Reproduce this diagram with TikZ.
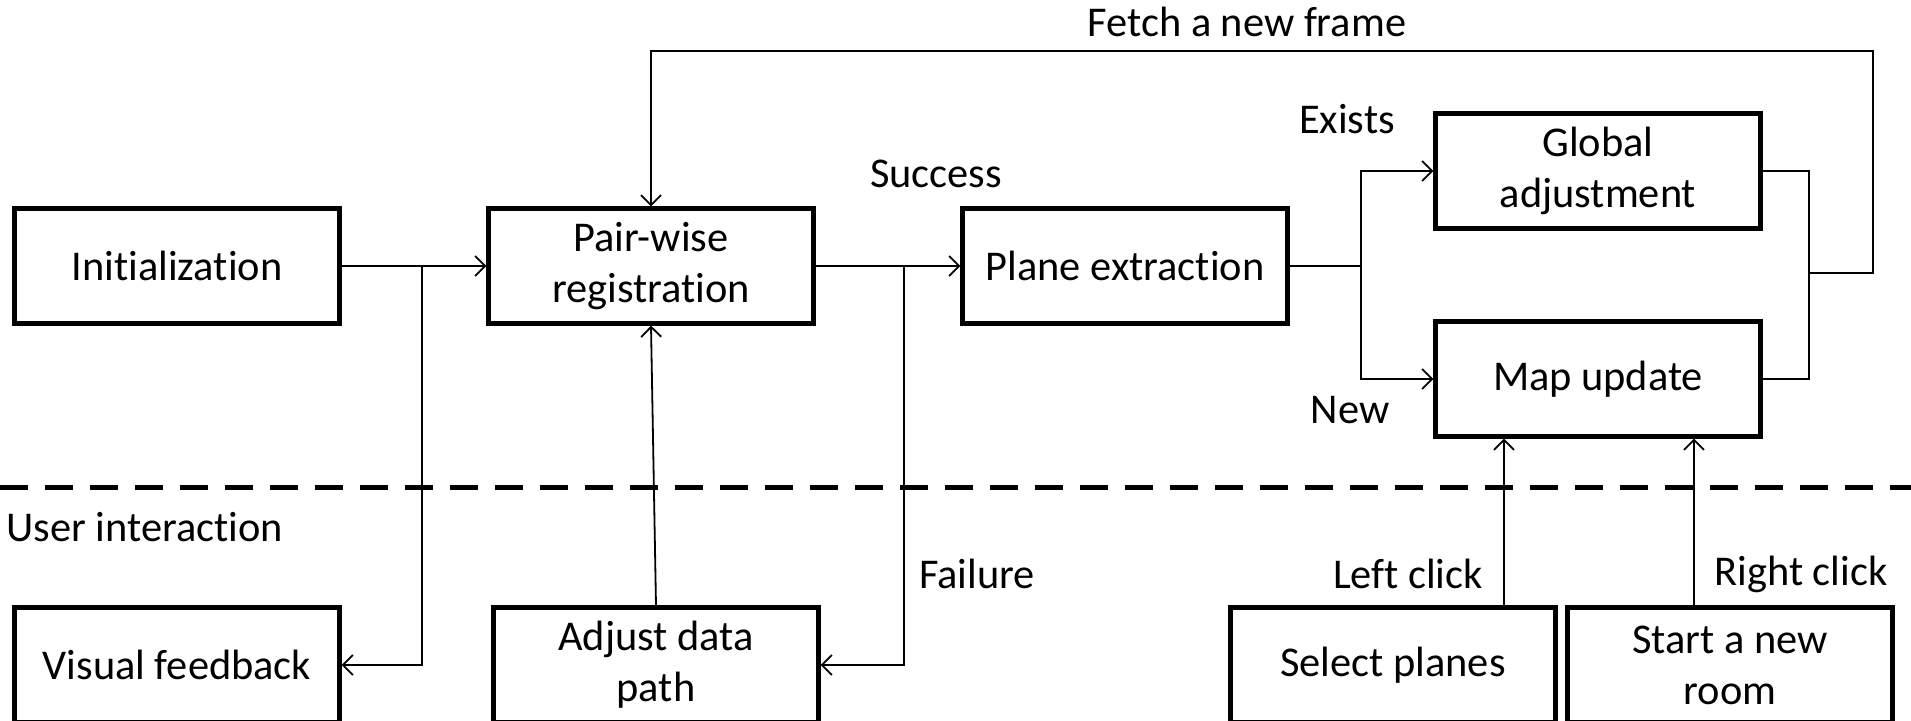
\documentclass[tikz,border=0pt]{standalone}
\usepackage{fontspec}
\setmainfont{Carlito}[Ligatures=NoCommon]
\usetikzlibrary{arrows.meta}
\begin{document}
\begin{tikzpicture}[x=0.5pt, y=-0.5pt,
  every node/.style={font=\fontsize{21.2}{25.6}\selectfont},
  block/.style={draw, line width=2.1pt, minimum width=162.5pt, minimum height=57.5pt,
    align=center, inner sep=0pt},
  conn/.style={line width=0.9pt, -{Straight Barb[length=5pt, width=10pt, line width=0.9pt]}},
  wire/.style={line width=0.9pt},
  lbl/.style={inner sep=0pt}]
\useasboundingbox (0,0) rectangle (1911,721);

% processing blocks
\node[block] (init) at (177,266) {Initialization};
\node[block] (pw)   at (651,266) {Pair-wise\\registration};
\node[block] (pe)   at (1125,266) {Plane extraction};
\node[block] (ga)   at (1598,171) {Global\\adjustment};
\node[block] (mu)   at (1598,379) {Map update};

% user interaction blocks
\node[block] (vf)   at (177,665) {Visual feedback};
\node[block] (adj)  at (656,665) {Adjust data\\path};
\node[block] (sp)   at (1393,665) {Select planes};
\node[block] (snr)  at (1730,665) {Start a new\\room};

% separator
\draw[line width=2.8pt, dash pattern=on 14pt off 8.5pt] (0,487.5) coordinate (sepL) -- (1911,487.5) coordinate (sepR);

% labels
\node[lbl] (fetch) at (1247,22) {Fetch a new frame};
\node[lbl] (succ)  at (936,174) {Success};
\node[lbl] (exi)   at (1347,119) {Exists};
\node[lbl] (new)   at (1350,410) {New};
\node[lbl, anchor=west] (ui) at (6,527) {User interaction};
\node[lbl] (fail)  at (977,574) {Failure};
\node[lbl] (lclk)  at (1408,574) {Left click};
\node[lbl] (rclk)  at (1801,574) {Right click};

% branch points
\coordinate (br1) at (422,266);
\coordinate (br2) at (904,266);
\coordinate (split) at (1361,266);
\coordinate (merge) at (1809,273);
\coordinate (topR) at (1873,51);
\coordinate (lc) at (1504,608);
\coordinate (rc) at (1694,608);

% connectors
\draw[conn] (init.east) -- (pw.west);
\draw[conn] (br1) |- (vf.east);
\draw[conn] (pw.east) -- (pe.west);
\draw[conn] (br2) |- (adj.east);
\draw[conn] (adj.north) -- (pw.south);
\draw[wire] (pe.east) -- (split);
\draw[conn] (split) |- (ga.west);
\draw[conn] (split) |- (mu.west);
\draw[wire] (ga.east) -| (merge);
\draw[wire] (mu.east) -| (merge);
\draw[conn] (merge) -| (topR) -| (pw.north);
\draw[conn] (lc) -- (lc |- mu.south);
\draw[conn] (rc) -- (rc |- mu.south);
\end{tikzpicture}
\end{document}
